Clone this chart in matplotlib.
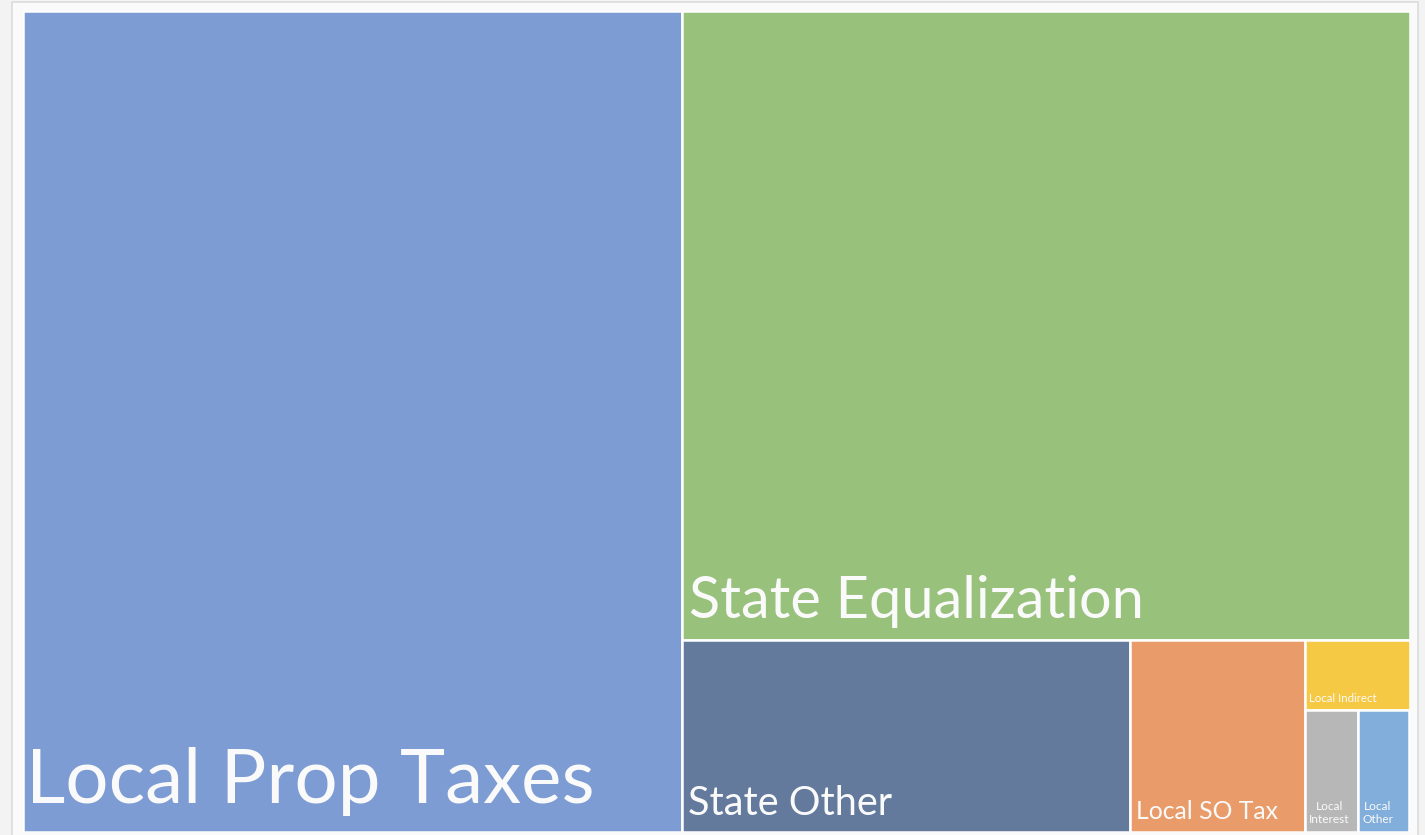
import matplotlib
matplotlib.use("Agg")
import matplotlib.pyplot as plt
from matplotlib.patches import Rectangle

# ---- data (share of revenue, %) ----
categories = ["Local Prop Taxes", "State Equalization", "State Other", "Local SO Tax",
              "Local Indirect", "Local Interest", "Local Other"]
labels = ["Local Prop Taxes", "State Equalization", "State Other", "Local SO Tax",
          "Local Indirect", "Local\nInterest", "Local\nOther"]
values = [47.57, 40.16, 7.56, 2.95, 0.64, 0.57, 0.55]
colors = ["#7C9CD3", "#98C17C", "#647A9C", "#E99C69", "#F6C944", "#B7B7B7", "#81AEDA"]

# grouping of items into strips (layout plan)
groups = [[0], [1], [2], [3], [4], [5, 6]]

# label styling
font_sizes = [55.0, 41.6, 28.5, 17.8, 8.3, 8.6, 8.6]
pad_x = [4, 7, 6, 6, 4, 4, 4]
pad_y = [29, 22, 17, 13, 8, 9, 9]

W, H = 1387.0, 820.7


def strip_layout(vals, groups, x, y, w, h):
    total = float(sum(vals))
    scale = (w * h) / total
    rects = [None] * len(vals)
    for g in groups:
        area = sum(vals[i] for i in g) * scale
        if w >= h:
            sw = area / h
            yy = y
            for i in g:
                hh = vals[i] * scale / sw
                rects[i] = (x, yy, sw, hh)
                yy += hh
            x += sw
            w -= sw
        else:
            sh = area / w
            xx = x
            for i in g:
                ww = vals[i] * scale / sh
                rects[i] = (xx, y, ww, sh)
                xx += ww
            y += sh
            h -= sh
    return rects


fig = plt.figure(figsize=(14.25, 8.35), dpi=100)
fig.patch.set_facecolor("#F3F3F3")

bg = fig.add_axes([0, 0, 1, 1], zorder=-5)
bg.set_xlim(0, 1425)
bg.set_ylim(835, 0)
bg.axis("off")
bg.add_patch(Rectangle((12.5, 1.5), 1418 - 12.5, 860, facecolor="#FAFAFA",
                       edgecolor="#DCDCDC", linewidth=1.2))

ax = fig.add_axes([22.5 / 1425, 3.0 / 835, W / 1425, H / 835], zorder=1)
ax.set_xlim(0, W)
ax.set_ylim(H, 0)
ax.axis("off")

rects = strip_layout(values, groups, 0, 0, W, H)
for i, (rx, ry, rw, rh) in enumerate(rects):
    ax.add_patch(Rectangle((rx, ry), rw, rh, facecolor=colors[i], edgecolor="white",
                           linewidth=1.8))
    multi = "\n" in labels[i]
    ax.text(rx + pad_x[i], ry + rh - pad_y[i], labels[i], color="#FAFAFA",
            fontsize=font_sizes[i], family=["Lato", "DejaVu Sans"],
            ha="left", va="baseline", multialignment="center",
            linespacing=1.25 if multi else 1.0)

fig.savefig("out.png", dpi=100, facecolor=fig.get_facecolor())
